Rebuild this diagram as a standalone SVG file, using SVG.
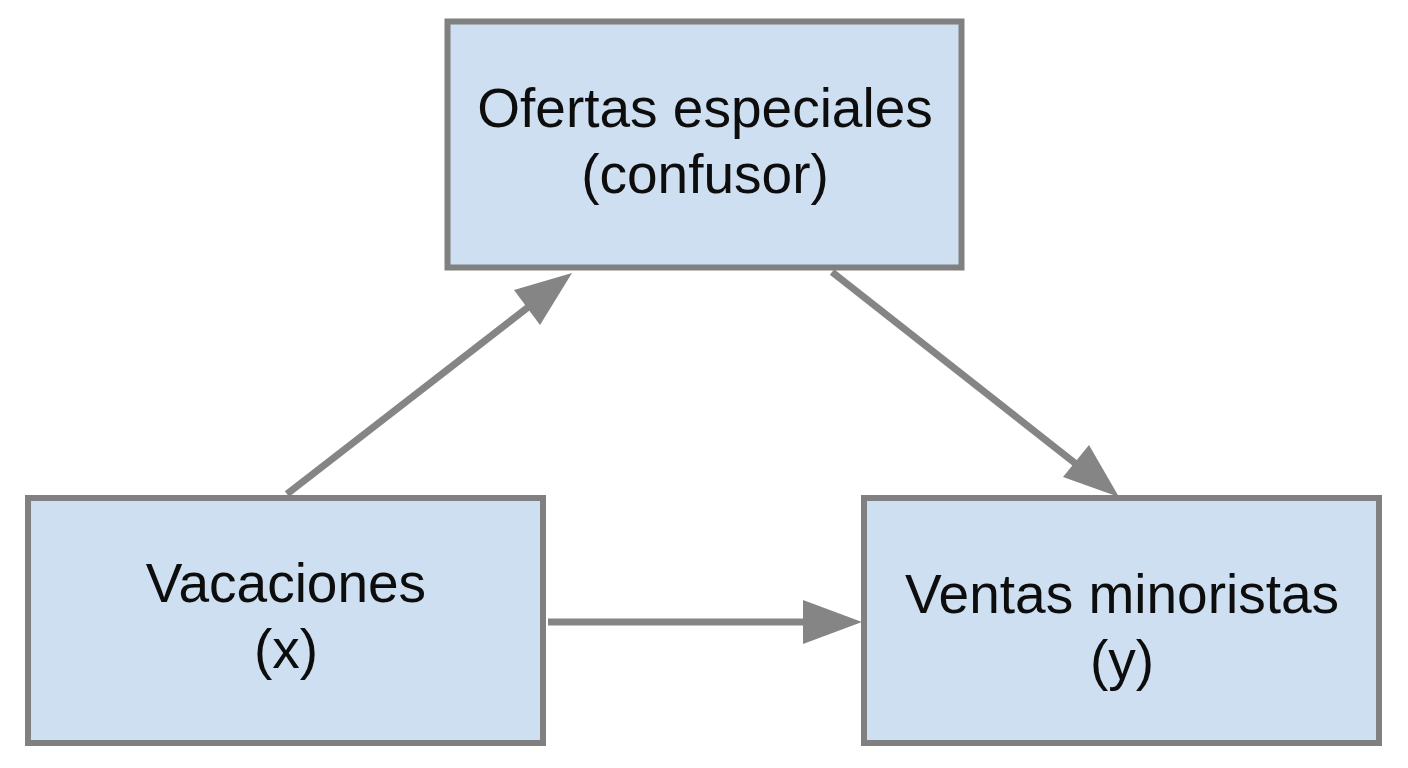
<svg xmlns="http://www.w3.org/2000/svg" width="1408" height="768" viewBox="0 0 1408 768">
<style>
.box{fill:#cddff0;stroke:#808080;stroke-width:6}
.lbl{font-family:"Liberation Sans",Arial,sans-serif;font-size:55px;fill:#0d0d0d;text-anchor:middle}
.con{stroke:#858585;stroke-width:7;fill:none}
.head{fill:#858585}
</style>
<rect width="1408" height="768" fill="#ffffff"/>
<g id="connectors">
<line class="con" x1="287" y1="494" x2="540" y2="298"/>
<polygon class="head" points="572,273 514,290 540,325"/>
<line class="con" x1="832" y1="272" x2="1085" y2="471"/>
<polygon class="head" points="1119,497 1089,445 1063,477"/>
<line class="con" x1="548" y1="622" x2="810" y2="622"/>
<polygon class="head" points="862,622 803,600 803,644"/>
</g>
<g id="node-ofertas">
<rect class="box" x="447.5" y="21.5" width="514" height="246"/>
<text class="lbl" x="705" y="127">Ofertas especiales</text>
<text class="lbl" x="705" y="193">(confusor)</text>
</g>
<g id="node-vacaciones">
<rect class="box" x="28" y="498" width="515" height="245"/>
<text class="lbl" x="286" y="602">Vacaciones</text>
<text class="lbl" x="286" y="668">(x)</text>
</g>
<g id="node-ventas">
<rect class="box" x="864" y="498" width="515" height="245"/>
<text class="lbl" x="1122" y="613">Ventas minoristas</text>
<text class="lbl" x="1122" y="679">(y)</text>
</g>
</svg>
